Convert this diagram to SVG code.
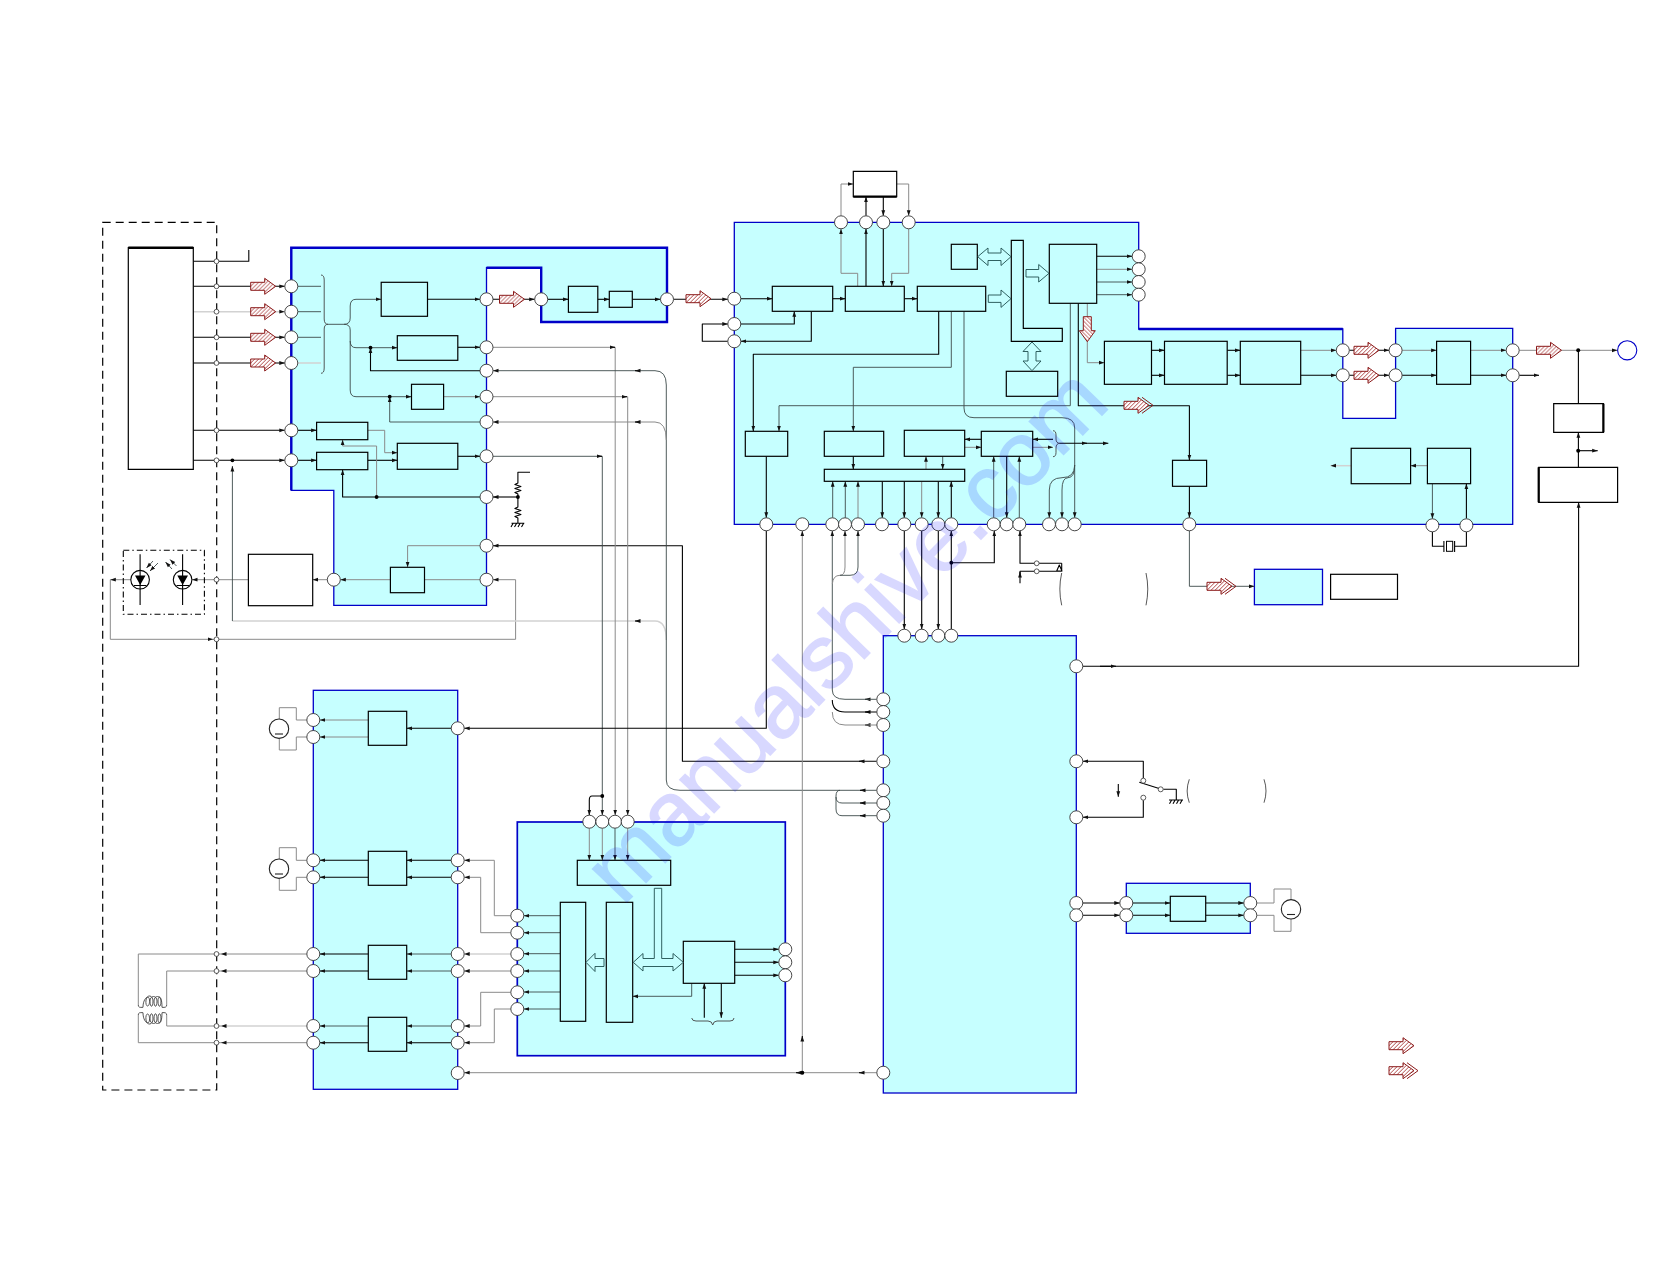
<svg xmlns="http://www.w3.org/2000/svg" width="1680" height="1263" viewBox="0 0 1680 1263">
<style>
.rg{fill:#c6ffff;stroke:#0000c8;stroke-width:1.3;stroke-linejoin:miter}
.rgt{fill:none;stroke:#0000c8;stroke-width:2.4;stroke-linejoin:miter}
.b{fill:#c6ffff;stroke:#000;stroke-width:1.2}
.w{fill:#fff;stroke:#000;stroke-width:1.2}
.k,.d,.g,.l{fill:none;stroke-linejoin:round}
.k{stroke:#000;stroke-width:1.1}
.d{stroke:#3c4a4a;stroke-width:.9}
.g{stroke:#8a8a8a;stroke-width:1}
.l{stroke:#d2d2d2;stroke-width:1.5}
.a{marker-end:url(#ah)}
.t{fill:#fff;stroke:#333;stroke-width:.9}
.s{fill:#fff;stroke:#333;stroke-width:.8}
.dot{fill:#000}
.h{fill:#c6ffff;stroke:#1f4f4f;stroke-width:.9}
.dash{fill:none;stroke:#000;stroke-width:1.2;stroke-dasharray:8 5}
.dd{fill:none;stroke:#000;stroke-width:1.1;stroke-dasharray:6 3 1.5 3}
.br{fill:none;stroke:#444;stroke-width:.9}
</style>
<defs>
<marker id="ah" markerUnits="userSpaceOnUse" markerWidth="6" markerHeight="5" refX="5.5" refY="2.5" orient="auto"><path d="M0 0.6L5.5 2.5L0 4.4Z" fill="#111"/></marker>
<pattern id="hatch" patternUnits="userSpaceOnUse" width="4" height="4"><rect width="4" height="4" fill="#fff"/><path d="M-1 1L1 -1M0 4L4 0M3 5L5 3" stroke="#b04a4a" stroke-width="1"/></pattern>
<g id="ra"><path d="M0 -4H14V-8L25 0L14 8V4H0Z" fill="url(#hatch)" stroke="#8b1a1a" stroke-width="1"/></g>
<g id="ra2"><path d="M0 -4H14V-8L25 0L14 8V4H0Z" fill="url(#hatch)" stroke="#8b1a1a" stroke-width="1"/><path d="M18 -8L29 0L18 8" fill="none" stroke="#8b1a1a" stroke-width="1"/></g>
</defs>
<rect width="1680" height="1263" fill="#fff"/>

<g id="pickup-frame"><rect class="dash" x="102.7" y="222.3" width="114" height="867.7"/></g>
<g id="block-rf"><path class="rg" d="M291.3 247.7H667V322H541.2V267.7H486.5V605.3H333.8V490.3H291.3Z"/><path class="rgt" d="M291.3 490.3V247.7H667V322H541.2V267.7H486.5"/></g>
<g id="block-main"><path class="rg" d="M734.3 222.3H1138.7V329H1342.8V418.3H1395.6V328.3H1512.7V524.3H734.3Z"/><path class="rgt" d="M1138.7 329H1342.8"/></g>
<g id="block-drivers"><rect class="rg" x="313.3" y="690.3" width="144.4" height="399"/></g>
<g id="block-servo"><rect class="rg" style="stroke-width:1.7" x="517.3" y="822" width="268" height="233.7"/></g>
<g id="block-system"><rect class="rg" x="883.3" y="635.7" width="193" height="457.3"/></g>
<g id="block-loading"><rect class="rg" x="1126.3" y="883.3" width="124" height="50"/></g>
<g id="block-y"><rect class="rg" x="1254.4" y="569.3" width="68.1" height="35.4"/></g>

<g id="connectors">
<path class="k" d="M193.3 261.3H248.8V250"/>
<path class="k a" d="M193.3 286.3H284.8"/>
<path class="l a" d="M193.3 311.7H284.8"/>
<path class="k a" d="M193.3 337.3H284.8"/>
<path class="k a" d="M193.3 363H284.8"/>
<path class="k a" d="M193.3 430.3H284.8"/>
<path class="k a" d="M193.3 460.3H284.8"/>
<path class="d" d="M298 286.3H321M298 311.7H321M298 337.3H321"/><path class="l" d="M298 363H321"/>
<path class="br" d="M321 275Q324.2 275 324.2 280V319Q324.2 324.3 328 324.3Q324.2 324.3 324.2 329V368Q324.2 373.3 321 373.3"/>
<path class="d a" d="M328 324.3H344Q350.2 324.3 350.2 318V306Q350.2 299.3 356 299.3H381.2"/>
<path class="d a" d="M344 324.3Q350.2 324.3 350.2 330V341Q350.2 347.7 356 347.7H397.3"/>
<path class="d a" d="M350.2 341V390Q350.2 396.7 356 396.7H411.5"/>
<path class="k a" d="M427.5 299.3H480"/>
<path class="k a" d="M457.8 347.3H480"/>
<path class="g a" d="M443.6 396.7H480"/>
<path class="k a" d="M457.8 456.3H480"/>
<path class="k a" d="M480 370.7H370.5V347.7"/>
<path class="d a" d="M480 422H389.7V396.7"/>
<path class="k a" d="M297.8 430.3H316.6"/><path class="k a" d="M297.8 460.3H316.6"/>
<path class="g a" d="M367.8 430.3H384.7V452.7H397.3"/>
<path class="k a" d="M367.8 460.3H397.3"/>
<path class="g a" d="M376.6 497V446H342.6V439.7"/>
<path class="k a" d="M480 497H342.6V469.7"/>
<path class="k a" d="M517.9 497H493"/>
<path class="k" d="M530 472.3H517.9V483l-3 1.5l6 2l-6 2l6 2l-6 2l3 1.5V507l-3 1.5l6 2l-6 2l6 2l-6 2l3 1.5V523.3M511.5 523.3H524.3M513 523.5l-2 3.5M516.5 523.5l-2 3.5M520 523.5l-2 3.5M523.5 523.5l-2 3.5"/>
<path class="g a" d="M480 545.7H407.6V567.3"/>
<path class="k a" d="M876.8 761.3H682.4V545.7H493"/>
<path class="g a" d="M480 579.7H340.3"/>
<path class="g a" d="M327.3 579.7H312.7"/>
<path class="g a" d="M248.4 579.7H192"/>
<path class="g a" d="M131 579.7H110.3"/>
<path class="g a" d="M110.3 579.7V639.3H213"/>
<path class="g a" d="M515.6 639.3V579.7H493"/>
<path class="g" d="M213 639.3H515.6"/>
<path class="l" d="M666.3 640Q666.3 621 655 621H232.4"/>
<path class="d a" d="M232.4 621V466"/>
<path class="k a" d="M493 299.3H534.7"/>
<path class="k a" d="M547.7 299.3H568.4"/>
<path class="k a" d="M597.8 299.3H609.3"/>
<path class="k a" d="M632.3 299.3H660.5"/>
<path class="k a" d="M673.5 299.3H727.8"/>
<path class="g a" d="M493 347.3H615.2V815.2"/>
<path class="g a" d="M493 396.7H627.7V815.2"/>
<path class="d a" d="M493 456.3H602.3V815.2"/>
<path class="k a" d="M602.3 796H592Q589.3 796 589.3 800V815.2"/>
<path class="d a" d="M876.8 790.3H680Q666.3 790.3 666.3 780V385Q666.3 370.7 655 370.7H493"/>
<path class="g a" d="M666.3 440Q666.3 422 655 422H493"/>
<path class="d" d="M840 790.3Q836 790.3 836 796V797Q836 803 842 803H876.8"/>
<path class="d" d="M836 797V809Q836 815.7 842 815.7H876.8"/>
<path class="k a" d="M610 347.3H615"/><path class="k a" d="M622 396.7H627"/><path class="k a" d="M597 456.3H602"/>
<path class="k a" d="M640 370.7H635"/><path class="k a" d="M640 422H635"/><path class="k a" d="M640 621H635"/>
<path class="k a" d="M865 790.3H860"/><path class="k a" d="M865 803H860"/><path class="k a" d="M865 815.7H860"/>
<path class="k a" d="M870 699.300H865"/><path class="k a" d="M870 712H865"/><path class="k a" d="M870 725H865"/><path class="k a" d="M864 761.300H859"/>

<path class="k a" d="M740.8 298.7H772.3"/>
<path class="k a" d="M832.7 298.7H845.3"/><path class="k a" d="M904.3 298.7H917.3"/>
<path class="k a" d="M740.8 324H794.3V311.3"/>
<path class="k a" d="M811.3 311.3V341.3H740.8"/>
<path class="k a" d="M727.8 341.3H702.3V324H727.8"/>
<path class="g a" d="M857.7 286.3V273.3H841V228.8"/>
<path class="k a" d="M866 286.3V228.8"/>
<path class="k a" d="M883.3 228.8V286.3"/>
<path class="g a" d="M908.7 228.8V273.3H891.7V286.3"/>
<path class="g a" d="M841 215.8V184H853.3"/>
<path class="k a" d="M866 215.8V196.7"/>
<path class="k a" d="M883.3 196.7V215.8"/>
<path class="g a" d="M896.7 184H908.7V215.8"/>
<path class="k a" d="M1096.7 256.3H1132.2"/>
<path class="g a" d="M1096.7 269.3H1132.2"/>
<path class="d a" d="M1096.7 282H1132.2"/>
<path class="d a" d="M1096.7 294.7H1132.2"/>
<path class="k a" d="M938.7 311.3V354.3H753.3V431.3"/>
<path class="d a" d="M951.3 311.3V367.3H853.3V431.3"/>
<path class="d a" d="M964 311.3V408Q964 417.7 974 417.7H1062Q1074.7 417.7 1074.7 428V517.8"/>
<path class="d a" d="M1070.3 303.3V405.7H779V431.3"/>
<path class="k a" d="M1078.3 303.3V405.7H1189.4V460.3"/>
<path class="g a" d="M1087.3 303.3V362.7H1104.3"/>
<path class="d a" d="M1074.7 465Q1074.7 477.7 1062 477.7Q1049.3 477.7 1049.3 490V517.8"/>
<path class="d a" d="M1074.7 465Q1074.7 477.7 1068 477.7Q1062 477.7 1062 490V517.8"/>
<path class="k a" d="M853.3 456.3V469.3"/>
<path class="g a" d="M926 469.3V456.3"/>
<path class="d a" d="M942.7 456.3V469.3"/>
<path class="k a" d="M981.3 439.3H964.7"/>
<path class="g a" d="M964.7 447.3H981.3"/>
<path class="k a" d="M1053 439.3H1032.7"/>
<path class="g a" d="M1032.7 447.3H1053"/>
<path class="br" d="M1053 430.7Q1056 430.7 1056 435V439Q1056 443.3 1060 443.3Q1056 443.3 1056 448V452.5Q1056 456.7 1053 456.7"/>
<path class="k a" d="M1060 443.3H1108.3"/><path class="k a" d="M1082 443.3H1087"/>
<path class="d a" d="M993.7 517.8V456.3"/>
<path class="k a" d="M1006.7 456.3V517.8"/>
<path class="d a" d="M1019.3 517.8V456.3"/>
<path class="k a" d="M766.3 456.3V517.8"/>
<path class="k a" d="M766.3 530.8V728.3H464.2"/>
<path class="d a" d="M832.7 517.8V481.3"/>
<path class="d a" d="M845.3 517.8V481.3"/>
<path class="g a" d="M858 517.8V481.3"/>
<path class="k a" d="M882.3 481.3V517.8"/>
<path class="k a" d="M904.3 481.3V517.8"/>
<path class="g a" d="M921.7 481.3V517.8"/>
<path class="k a" d="M938.3 481.3V517.8"/>
<path class="k a" d="M951.3 517.8V481.3"/>
<path class="d a" d="M876.8 699.3H845Q832.3 699.3 832.3 690V530.8"/>
<path class="k" d="M876.8 712H845Q832.3 712 832.3 700"/>
<path class="g" d="M876.8 725H845Q832.3 725 832.3 712"/>
<path class="g a" d="M832.3 584Q833 575.3 840 575.3Q845 575.3 845 567V530.8"/>
<path class="d a" d="M840 575.3H850Q858 575.3 858 567V530.8"/>
<path class="k a" d="M904.3 530.8V629.2"/>
<path class="k a" d="M921.7 530.8V629.2"/>
<path class="k a" d="M938.3 530.8V629.2"/>
<path class="k a" d="M951.3 629.2V530.8"/>
<path class="k a" d="M951.3 562.7H994.3V530.8"/>
<path class="k a" d="M1036.7 563.3H1020V530.8"/>
<path class="k" d="M1036.7 563.3H1061.7M1020 583.3V571.3H1061.7M1061.7 563.3V571.3M1059.3 565L1056.7 571H1062Z"/>
<path class="k a" d="M1020 577V572"/>
<path class="g a" d="M802.3 1072.7V530.8"/>
<path class="g a" d="M876.8 1072.7H464.2"/>
<path class="k a" d="M864 1072.700H859"/>
<path class="k a" d="M802.3 1072.7H796"/>
<path class="k a" d="M802.3 1040V1036"/>

<path class="g a" d="M1300.7 350.3H1336.3"/>
<path class="k a" d="M1300.7 375.3H1336.3"/>
<path class="k a" d="M1151.5 350.3H1164.5"/><path class="k a" d="M1151.5 375.3H1164.5"/>
<path class="k a" d="M1227.2 350.3H1240.3"/><path class="k a" d="M1227.2 375.3H1240.3"/>
<path class="k a" d="M1349.3 350.3H1389.1"/><path class="k a" d="M1349.3 375.3H1389.1"/>
<path class="g a" d="M1402.1 350.3H1436.6"/><path class="k a" d="M1402.1 375.3H1436.6"/>
<path class="g a" d="M1470.6 350.3H1506.2"/><path class="k a" d="M1470.6 375.3H1506.2"/>
<path class="g a" d="M1519.2 350.3H1617.5"/>
<path class="k a" d="M1519.2 375.3H1539"/>
<path class="k" d="M1578.4 350.3V403.7"/>
<path class="k a" d="M1578.4 467.3V432.3"/>
<path class="k a" d="M1578.4 450.7H1597.7"/>
<path class="k a" d="M1082.8 666.3H1578.6V502.3"/>
<path class="k a" d="M1100 666.3H1116"/>
<path class="k a" d="M1189.4 486.3V517.8"/>
<path class="d a" d="M1189.4 530.8V586.3H1254.4"/>
<path class="g a" d="M1427.4 465.7H1410.6"/>
<path class="l a" d="M1351.2 465.7H1330.6"/>
<path class="d a" d="M1432.4 483.7V518.8"/>
<path class="k a" d="M1466.4 518.5V483.7"/>
<path class="k" d="M1432.4 531.8V546.3H1443.9M1466.4 531.8V546.3H1454.6M1443.9 541V552M1454.6 541V552"/>
<rect x="1446.5" y="541.3" width="6.2" height="10" fill="#fff" stroke="#000" stroke-width="1"/>

<path class="k a" d="M1143.3 778V761.3H1082.8"/>
<path class="k" d="M1139.3 782.3L1160.7 789M1163.3 789.3H1176.3V800M1169 800H1183M1171.5 800.3l-2 3.5M1175 800.3l-2 3.5M1178.5 800.3l-2 3.5M1182 800.3l-2 3.5"/>
<path class="k a" d="M1143.3 800.3V817.3H1082.8"/>
<path class="k a" d="M1118.3 784V796.7"/>
<path class="k a" d="M1082.8 903H1119.8"/><path class="k a" d="M1082.8 915.3H1119.8"/>
<path class="k a" d="M1132.8 903H1170.3"/><path class="k a" d="M1132.8 915.3H1170.3"/>
<path class="k a" d="M1205.7 903H1243.8"/><path class="k a" d="M1205.7 915.3H1243.8"/>
<path class="g" d="M1256.8 903H1274V889H1291V899.6M1256.8 915.3H1274V931.3H1291V919"/>

<path class="k a" d="M457.7 728.3H406.7"/>
<path class="g a" d="M368.3 720H319.8"/><path class="g a" d="M368.3 737H319.8"/>
<path class="g" d="M306.8 720H296.3V707.7H279.3V719M306.8 737H296.3V750H279.3V738.4"/>
<path class="g" d="M306.8 860.3H296.3V847.7H279.3V859M306.8 877.3H296.3V890.3H279.3V878.4"/>
<path class="k a" d="M368.3 860.3H319.8"/><path class="k a" d="M368.3 877.3H319.8"/>
<path class="k a" d="M451.2 860.3H406.7"/><path class="k a" d="M451.2 877.3H406.7"/>
<path class="k a" d="M368.3 954H319.8"/><path class="k a" d="M368.3 971H319.8"/>
<path class="d a" d="M451.2 954H406.7"/><path class="d a" d="M451.2 971H406.7"/>
<path class="d a" d="M368.3 1026H319.8"/><path class="k a" d="M368.3 1042.7H319.8"/>
<path class="d a" d="M451.2 1026H406.7"/><path class="k a" d="M451.2 1042.7H406.7"/>
<path class="g a" d="M510.8 915.7H494.3V860.3H464.2"/>
<path class="g a" d="M510.8 932.7H480.7V877.3H464.2"/>
<path class="l a" d="M510.8 954H464.2"/>
<path class="g a" d="M510.8 971H464.2"/>
<path class="g a" d="M510.8 992.3H480.7V1026H464.2"/>
<path class="g a" d="M510.8 1009H494.3V1042.7H464.2"/>
<path class="g a" d="M306.8 954H221"/><path class="g a" d="M306.8 971H221"/><path class="l a" d="M306.8 1026H221"/><path class="g a" d="M306.8 1042.7H221"/>
<path class="g" d="M221 954H138.3V1005M221 971H166.7V1005M166.7 1015V1026H221M138.3 1015V1042.7H221"/>
<path class="br" d="M138.3 1005Q138 1008 143 1007.3C143 998 149 994 149.5 1000C150 1008 145 1008 146 1000C147 994 153 995 153 1001C153 1008 150 1008 150 1001C150 995 157 995 157 1001C157 1008 154 1008 154 1001C154 995 161 995 161 1001C161 1008 158 1008 158 1001C158 995 162 995 162 1007.3Q166.7 1008 166.7 1005"/>
<path class="br" d="M138.3 1015Q138 1012 143 1012.7C143 1022 149 1026 149.5 1020C150 1012 145 1012 146 1020C147 1026 153 1025 153 1019C153 1012 150 1012 150 1019C150 1025 157 1025 157 1019C157 1012 154 1012 154 1019C154 1025 161 1025 161 1019C161 1012 158 1012 158 1019C158 1025 162 1025 162 1012.7Q166.7 1012 166.7 1015"/>

<path class="g a" d="M589.3 828.2V860.3"/><path class="g a" d="M602.3 828.2V860.3"/><path class="d a" d="M615 828.2V860.3"/><path class="g a" d="M627.7 828.2V860.3"/>
<path class="d a" d="M560.3 915.7H523.8"/><path class="d a" d="M560.3 932.7H523.8"/><path class="d a" d="M560.3 953.7H523.8"/><path class="d a" d="M560.3 971H523.8"/><path class="d a" d="M560.3 992H523.8"/><path class="d a" d="M560.3 1009H523.8"/>
<path class="k a" d="M734.7 949.3H778.8"/><path class="k a" d="M734.7 962.3H778.8"/><path class="k a" d="M734.7 975.3H778.8"/>
<path class="d a" d="M691.7 983.3V996.3H632.7"/>
<path class="k a" d="M704.3 1017.7V983.3"/>
<path class="k a" d="M721.3 983.3V1017.7"/>
<path class="br" d="M691.7 1018Q692 1021 696 1021H708Q712 1021 712.7 1025Q713.4 1021 717 1021H730Q734 1021 734 1018"/>
<path class="br" d="M1061.7 573Q1058 589 1061.7 605.3M1146 573Q1149.5 589 1146 605.3M1189.3 779.3Q1185 791 1189.3 802.7M1264 779.3Q1268 791 1264 802.7"/>
</g>

<g id="dots"><circle class="dot" cx="370.5" cy="347.7" r="1.9"/><circle class="dot" cx="389.7" cy="396.7" r="1.9"/><circle class="dot" cx="376.6" cy="497" r="1.9"/><circle class="dot" cx="517.9" cy="497" r="1.9"/><circle class="dot" cx="232.4" cy="460.3" r="1.9"/><circle class="dot" cx="602.3" cy="796" r="1.9"/><circle class="dot" cx="951.3" cy="562.7" r="1.9"/><circle class="dot" cx="802.3" cy="1072.7" r="2"/><circle class="dot" cx="1578.2" cy="350.3" r="2"/><circle class="dot" cx="1578.2" cy="450.7" r="2"/></g>

<g id="box-pickup"><path class="w" d="M128.3 247.7H193.3V469.3H128.3Z"/><path d="M128.3 247.7H193.3" stroke="#000" stroke-width="2.4"/></g>
<g id="box-a"><rect class="b" x="381.2" y="282.3" width="46.3" height="34"/></g>
<g id="box-b"><rect class="b" x="397.3" y="335.7" width="60.5" height="24.6"/></g>
<g id="box-c"><rect class="b" x="411.5" y="384.3" width="32.1" height="25"/></g>
<g id="box-d"><rect class="b" x="316.6" y="422.3" width="51.2" height="17.4"/></g>
<g id="box-e"><rect class="b" x="316.6" y="452.3" width="51.2" height="17.4"/></g>
<g id="box-f"><rect class="b" x="397.3" y="443.3" width="60.5" height="26"/></g>
<g id="box-g"><rect class="b" x="390.4" y="567.3" width="34.1" height="25.4"/></g>
<g id="box-h"><rect class="b" x="568.4" y="286.3" width="29.4" height="26"/></g>
<g id="box-i"><rect class="b" x="609.3" y="291.3" width="23" height="16"/></g>
<g id="box-laser"><rect class="w" x="248.4" y="554.3" width="64.3" height="51.4"/></g>
<g id="box-k"><rect class="b" x="772.3" y="286.3" width="60.4" height="25"/></g>
<g id="box-l"><rect class="b" x="845.3" y="286.3" width="59" height="25"/></g>
<g id="box-m"><rect class="b" x="917.3" y="286.3" width="68.4" height="25"/></g>
<g id="box-top"><path class="w" d="M853.3 171.3H896.7V196.7H853.3Z"/><path d="M853.3 196.7H896.7" stroke="#000" stroke-width="2.2"/></g>
<g id="box-n"><rect class="b" x="951.3" y="244.3" width="26" height="25"/></g>
<g id="box-bus"><path class="b" d="M1011.3 240.3H1023.3V328.3H1062.3V341.3H1011.3Z"/></g>
<g id="box-o"><rect class="b" x="1049.3" y="244.3" width="47.4" height="59"/></g>
<g id="box-p"><rect class="b" x="1006.3" y="371.3" width="51.4" height="25"/></g>
<g id="box-r"><rect class="b" x="1104.4" y="341.3" width="47.1" height="43"/></g>
<g id="box-s"><rect class="b" x="1164.5" y="341.3" width="62.7" height="43"/></g>
<g id="box-t"><rect class="b" x="1240.3" y="341.3" width="60.4" height="43"/></g>
<g id="box-u"><rect class="b" x="1436.6" y="341.3" width="34" height="43"/></g>
<g id="box-v"><path class="w" d="M1553.7 403.7H1603.4V432.3H1553.7Z"/><path d="M1603.4 403.7V432.3" stroke="#000" stroke-width="2.2"/></g>
<g id="box-w"><path class="w" d="M1538.7 467.3H1617.6V502.3H1538.7Z"/><path d="M1538.7 467.3V502.3" stroke="#000" stroke-width="2.2"/></g>
<g id="box-x"><rect class="b" x="1172.5" y="460.3" width="34.1" height="26"/></g>
<g id="box-z"><rect class="w" x="1330.6" y="574.3" width="66.9" height="25"/></g>
<g id="box-aa"><rect class="b" x="1351.2" y="448.3" width="59.4" height="35.4"/></g>
<g id="box-ab"><rect class="b" x="1427.4" y="448.3" width="43.2" height="35.4"/></g>
<g id="box-q"><rect class="b" x="745.3" y="431.3" width="42.4" height="25"/></g>
<g id="box-ac"><rect class="b" x="824.3" y="431.3" width="59.4" height="25"/></g>
<g id="box-ad"><rect class="b" x="904.3" y="430.3" width="60.4" height="26"/></g>
<g id="box-ae"><rect class="b" x="981.3" y="431.3" width="51.4" height="25"/></g>
<g id="box-af"><rect class="b" x="824.3" y="469.3" width="140.4" height="12"/></g>
<g id="box-d1"><rect class="b" x="368.3" y="711.3" width="38.4" height="34"/></g>
<g id="box-d2"><rect class="b" x="368.3" y="851.3" width="38.4" height="34"/></g>
<g id="box-d3"><rect class="b" x="368.3" y="945.3" width="38.4" height="34"/></g>
<g id="box-d4"><rect class="b" x="368.3" y="1017.3" width="38.4" height="34"/></g>
<g id="box-ba"><rect class="b" x="577.3" y="860.3" width="93.4" height="25"/></g>
<g id="box-bb"><rect class="b" x="560.3" y="902.3" width="25.4" height="119"/></g>
<g id="box-bc"><rect class="b" x="606.3" y="902.3" width="26.4" height="120"/></g>
<g id="box-bd"><rect class="b" x="683.3" y="941.3" width="51.4" height="42"/></g>
<g id="box-load"><rect class="b" x="1170.3" y="896.3" width="35.4" height="25"/></g>

<g id="bus-arrows">
<path class="h" d="M977.7 256.7L988 248V253H1001V248L1011 256.7L1001 265.500V260.500H988V265.500Z"/>
<path class="h" d="M988.3 295H1001V290L1011 298.700L1001 307.400V302.400H988.300Z"/>
<path class="h" d="M1026 269.500H1038.700V264.500L1049 273.300L1038.700 282V277H1026Z"/>
<path class="h" d="M1032 342L1041 351.500H1036V361H1041L1032 370.700L1023 361H1028V351.500H1023Z"/>
<path class="h" d="M586 962.300L595 953.300V958.500H604V966.500H595V971.500Z"/>
<path class="h" d="M633.300 962.300L643 953.500V958.500H654.300V888.300H661.700V958.500H673V953.500L683.300 962.300L673 971V966.500H643V971Z"/>
</g>

<g id="motors" fill="#fff" stroke="#222" stroke-width="1.100">
<circle cx="279" cy="728.700" r="9.700"/><path d="M275 734H283"/>
<circle cx="279" cy="868.700" r="9.700"/><path d="M275 874H283"/>
<circle cx="1291" cy="909.300" r="9.700"/><path d="M1287 914.500H1295"/>
</g>

<g id="led-module"><rect class="dd" x="123.300" y="550.300" width="81.100" height="64"/>
<g stroke="#000" stroke-width="1.100" fill="none"><circle cx="140.100" cy="579.700" r="9.300"/><circle cx="182.600" cy="579.700" r="9.300"/><path d="M140.100 554.300V605M182.600 554.300V605M134 585.500H146.500M176.500 585.500H189"/></g>
<path d="M135 575.500H145.500L140.200 585ZM177.300 575.500H188L182.600 585Z" fill="#000"/>
<path class="d a" d="M158 563L150 571"/><path class="d a" d="M153 561L146.500 568"/><path class="d a" d="M172 569L165.500 562"/><path class="d a" d="M176.500 566L170 559.500"/>
</g>

<g id="terminals-small">
<circle class="s" cx="216.500" cy="261.300" r="2.400"/><circle class="s" cx="216.500" cy="286.300" r="2.400"/><circle class="s" cx="216.500" cy="311.700" r="2.400"/><circle class="s" cx="216.500" cy="337.300" r="2.400"/><circle class="s" cx="216.500" cy="363" r="2.400"/><circle class="s" cx="216.500" cy="430.300" r="2.400"/><circle class="s" cx="216.500" cy="460.300" r="2.400"/><circle class="s" cx="216.500" cy="579.700" r="2.400"/><circle class="s" cx="216.500" cy="639.300" r="2.400"/><circle class="s" cx="216.500" cy="954" r="2.400"/><circle class="s" cx="216.500" cy="971" r="2.400"/><circle class="s" cx="216.500" cy="1026" r="2.400"/><circle class="s" cx="216.500" cy="1042.700" r="2.400"/>
<circle class="s" cx="1036.700" cy="563.300" r="2.400"/><circle class="s" cx="1036.700" cy="571.300" r="2.400"/><circle class="s" cx="1143.300" cy="780.700" r="2.500"/><circle class="s" cx="1160.700" cy="789.300" r="2.500"/><circle class="s" cx="1143.300" cy="797.700" r="2.500"/>
</g>

<g id="terminals">
<circle class="t" cx="291.300" cy="286.300" r="6.500"/><circle class="t" cx="291.300" cy="311.700" r="6.500"/><circle class="t" cx="291.300" cy="337.300" r="6.500"/><circle class="t" cx="291.300" cy="363" r="6.500"/><circle class="t" cx="291.300" cy="430.300" r="6.500"/><circle class="t" cx="291.300" cy="460.300" r="6.500"/>
<circle class="t" cx="486.500" cy="299.300" r="6.500"/><circle class="t" cx="541.200" cy="299.300" r="6.500"/><circle class="t" cx="667" cy="299.300" r="6.500"/>
<circle class="t" cx="486.500" cy="347.300" r="6.500"/><circle class="t" cx="486.500" cy="370.700" r="6.500"/><circle class="t" cx="486.500" cy="396.700" r="6.500"/><circle class="t" cx="486.500" cy="422" r="6.500"/><circle class="t" cx="486.500" cy="456.300" r="6.500"/><circle class="t" cx="486.500" cy="497" r="6.500"/><circle class="t" cx="486.500" cy="545.700" r="6.500"/><circle class="t" cx="486.500" cy="579.700" r="6.500"/><circle class="t" cx="333.800" cy="579.700" r="6.500"/>
<circle class="t" cx="734.300" cy="298.700" r="6.500"/><circle class="t" cx="734.300" cy="324" r="6.500"/><circle class="t" cx="734.300" cy="341.300" r="6.500"/>
<circle class="t" cx="841" cy="222.300" r="6.500"/><circle class="t" cx="866" cy="222.300" r="6.500"/><circle class="t" cx="883.300" cy="222.300" r="6.500"/><circle class="t" cx="908.700" cy="222.300" r="6.500"/>
<circle class="t" cx="1138.700" cy="256.300" r="6.500"/><circle class="t" cx="1138.700" cy="269.300" r="6.500"/><circle class="t" cx="1138.700" cy="282" r="6.500"/><circle class="t" cx="1138.700" cy="294.700" r="6.500"/>
<circle class="t" cx="1342.800" cy="350.300" r="6.500"/><circle class="t" cx="1342.800" cy="375.300" r="6.500"/><circle class="t" cx="1395.600" cy="350.300" r="6.500"/><circle class="t" cx="1395.600" cy="375.300" r="6.500"/><circle class="t" cx="1512.700" cy="350.300" r="6.500"/><circle class="t" cx="1512.700" cy="375.300" r="6.500"/>
<circle class="t" cx="766.300" cy="524.300" r="6.500"/><circle class="t" cx="802.300" cy="524.300" r="6.500"/><circle class="t" cx="832.300" cy="524.300" r="6.500"/><circle class="t" cx="845" cy="524.300" r="6.500"/><circle class="t" cx="858" cy="524.300" r="6.500"/><circle class="t" cx="882" cy="524.300" r="6.500"/><circle class="t" cx="904.300" cy="524.300" r="6.500"/><circle class="t" cx="921.700" cy="524.300" r="6.500"/><circle class="t" cx="938.300" cy="524.300" r="6.500"/><circle class="t" cx="951.300" cy="524.300" r="6.500"/><circle class="t" cx="993.700" cy="524.300" r="6.500"/><circle class="t" cx="1006.700" cy="524.300" r="6.500"/><circle class="t" cx="1019.300" cy="524.300" r="6.500"/><circle class="t" cx="1049" cy="524.300" r="6.500"/><circle class="t" cx="1062" cy="524.300" r="6.500"/><circle class="t" cx="1074.700" cy="524.300" r="6.500"/><circle class="t" cx="1189.300" cy="524.300" r="6.500"/><circle class="t" cx="1432.400" cy="525.300" r="6.500"/><circle class="t" cx="1466.400" cy="525.300" r="6.500"/>
<circle class="t" cx="904.300" cy="635.700" r="6.500"/><circle class="t" cx="921.700" cy="635.700" r="6.500"/><circle class="t" cx="938.300" cy="635.700" r="6.500"/><circle class="t" cx="951.300" cy="635.700" r="6.500"/>
<circle class="t" cx="883.300" cy="699.300" r="6.500"/><circle class="t" cx="883.300" cy="712" r="6.500"/><circle class="t" cx="883.300" cy="725" r="6.500"/><circle class="t" cx="883.300" cy="761.300" r="6.500"/><circle class="t" cx="883.300" cy="790.300" r="6.500"/><circle class="t" cx="883.300" cy="803" r="6.500"/><circle class="t" cx="883.300" cy="815.700" r="6.500"/><circle class="t" cx="883.300" cy="1072.700" r="6.500"/>
<circle class="t" cx="1076.300" cy="666.300" r="6.500"/><circle class="t" cx="1076.300" cy="761.300" r="6.500"/><circle class="t" cx="1076.300" cy="817.300" r="6.500"/><circle class="t" cx="1076.300" cy="903" r="6.500"/><circle class="t" cx="1076.300" cy="915.300" r="6.500"/>
<circle class="t" cx="1126.300" cy="903" r="6.500"/><circle class="t" cx="1126.300" cy="915.300" r="6.500"/><circle class="t" cx="1250.300" cy="903" r="6.500"/><circle class="t" cx="1250.300" cy="915.300" r="6.500"/>
<circle class="t" cx="313.300" cy="720" r="6.500"/><circle class="t" cx="313.300" cy="737" r="6.500"/><circle class="t" cx="313.300" cy="860.300" r="6.500"/><circle class="t" cx="313.300" cy="877.300" r="6.500"/><circle class="t" cx="313.300" cy="954" r="6.500"/><circle class="t" cx="313.300" cy="971" r="6.500"/><circle class="t" cx="313.300" cy="1026" r="6.500"/><circle class="t" cx="313.300" cy="1042.700" r="6.500"/>
<circle class="t" cx="457.700" cy="728.300" r="6.500"/><circle class="t" cx="457.700" cy="860.300" r="6.500"/><circle class="t" cx="457.700" cy="877.300" r="6.500"/><circle class="t" cx="457.700" cy="954" r="6.500"/><circle class="t" cx="457.700" cy="971" r="6.500"/><circle class="t" cx="457.700" cy="1026" r="6.500"/><circle class="t" cx="457.700" cy="1042.700" r="6.500"/><circle class="t" cx="457.700" cy="1073" r="6.500"/>
<circle class="t" cx="517.300" cy="915.700" r="6.500"/><circle class="t" cx="517.300" cy="932.700" r="6.500"/><circle class="t" cx="517.300" cy="954" r="6.500"/><circle class="t" cx="517.300" cy="971" r="6.500"/><circle class="t" cx="517.300" cy="992.300" r="6.500"/><circle class="t" cx="517.300" cy="1009" r="6.500"/>
<circle class="t" cx="589.300" cy="821.700" r="6.500"/><circle class="t" cx="602.300" cy="821.700" r="6.500"/><circle class="t" cx="615" cy="821.700" r="6.500"/><circle class="t" cx="627.700" cy="821.700" r="6.500"/>
<circle class="t" cx="785.300" cy="949.300" r="6.500"/><circle class="t" cx="785.300" cy="962.300" r="6.500"/><circle class="t" cx="785.300" cy="975.300" r="6.500"/>
</g>

<g id="output-jack"><circle cx="1627.200" cy="350.300" r="9.600" fill="#fff" stroke="#0000c8" stroke-width="1.100"/></g>

<g id="signal-arrows">
<use href="#ra" x="250.700" y="286.300"/><use href="#ra" x="250.700" y="311.700"/><use href="#ra" x="250.700" y="337.300"/><use href="#ra" x="250.700" y="363"/>
<use href="#ra" x="499.500" y="299.300"/><use href="#ra" x="686" y="298.700"/>
<use href="#ra" x="1354" y="350.300"/><use href="#ra" x="1354" y="375.300"/><use href="#ra" x="1536.500" y="350.300"/>
<use href="#ra2" x="1124" y="405.300"/><use href="#ra2" x="1207" y="586.300"/>
<use href="#ra" transform="translate(1087.300 316.700) rotate(90)"/>
<use href="#ra" x="1389" y="1045.700"/><use href="#ra2" x="1389" y="1070.700"/>
</g>

<text transform="translate(867 656) rotate(-45.7)" text-anchor="middle" font-family="'Liberation Sans',sans-serif" font-size="90" fill="#0000ff" stroke="#0000ff" stroke-width="1.5" opacity=".15">manualshive.com</text>
</svg>
